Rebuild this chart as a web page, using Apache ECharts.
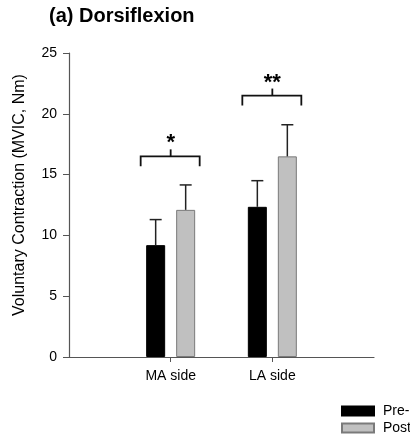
<!DOCTYPE html>
<html>
<head>
<meta charset="utf-8">
<script src="https://cdn.jsdelivr.net/npm/echarts@6/dist/echarts.min.js"></script>
<style>
html,body{margin:0;padding:0;background:#fff;}
#c{width:410px;height:437px;}
</style>
</head>
<body>
<div id="c"></div>
<script>
// ---- data ----
const categories = ['MA side', 'LA side'];
const seriesNames = ['Pre-intervention', 'Post-intervention'];
const preValues = [9.2, 12.35];
const postValues = [12.1, 16.5];
const preErrors = [2.1, 2.15];
const postErrors = [2.05, 2.6];
const sigLevels = [16.5, 21.5];
const sigLabels = ['*', '**'];
const yTicks = [0, 5, 10, 15, 20, 25];

// padded category axis (empty slots at both ends)
const axisCats = [''].concat(categories, ['']);
const pad = arr => [null].concat(arr, [null]);

const BAR_W = 19;
const BAR_GAP_PX = 11;
const OFF = (BAR_W + BAR_GAP_PX) / 2;
const FONT = 'Liberation Sans, Arial, Helvetica, sans-serif';

function errData(vals, errs) {
  return vals.map((v, i) => [i + 1, v + errs[i], v]);
}
function errRender(offset) {
  return function (params, api) {
    const x = api.value(0);
    const base = api.coord([x, api.value(2)]);
    const top = api.coord([x, api.value(1)]);
    const cx = base[0] + offset;
    return {
      type: 'group',
      children: [
        {type: 'line', shape: {x1: cx, y1: base[1], x2: cx, y2: top[1]}, style: {stroke: '#222', lineWidth: 1.5}},
        {type: 'line', shape: {x1: cx - 6, y1: top[1], x2: cx + 6, y2: top[1]}, style: {stroke: '#222', lineWidth: 1.5}}
      ]
    };
  };
}

const legendBase = {
  orient: 'vertical',
  left: 341,
  padding: 0,
  itemWidth: 32, itemHeight: 9,
  icon: 'rect',
  textStyle: {fontFamily: FONT, fontSize: 14, color: '#000', padding: [0, 0, 0, 4]}
};

const chart = echarts.init(document.getElementById('c'));
chart.setOption({
  animation: false,
  backgroundColor: '#fff',
  title: {
    text: '(a) Dorsiflexion',
    left: 49, top: 6, padding: 0,
    textStyle: {fontFamily: FONT, fontWeight: 'bold', fontSize: 20, color: '#000'}
  },
  legend: [
    Object.assign({}, legendBase, {top: 404, data: [seriesNames[0]]}),
    Object.assign({}, legendBase, {top: 421, data: [seriesNames[1]]})
  ],
  grid: {left: 69, right: 36, top: 53, bottom: 80, containLabel: false},
  xAxis: {
    type: 'category',
    data: axisCats,
    boundaryGap: false,
    axisLine: {lineStyle: {color: '#555', width: 1.2}},
    axisTick: {length: 5, lineStyle: {color: '#555'}, interval: (i) => i > 0 && i < axisCats.length - 1},
    axisLabel: {fontFamily: FONT, fontSize: 14, color: '#000', margin: 12, interval: 0},
    splitLine: {show: false}
  },
  yAxis: {
    type: 'value',
    min: yTicks[0], max: yTicks[yTicks.length - 1], interval: 5,
    name: 'Voluntary Contraction (MVIC, Nm)',
    nameLocation: 'middle',
    nameGap: 41,
    nameTextStyle: {fontFamily: FONT, fontSize: 16, color: '#000', padding: [0, 0, 0, 20]},
    axisLine: {show: true, lineStyle: {color: '#555', width: 1.2}},
    axisTick: {show: true, length: 6, lineStyle: {color: '#555'}},
    axisLabel: {fontFamily: FONT, fontSize: 14, color: '#000', margin: 12},
    splitLine: {show: false}
  },
  series: [
    {
      name: seriesNames[0], type: 'bar', data: pad(preValues),
      barWidth: BAR_W, barGap: (BAR_GAP_PX / BAR_W * 100) + '%',
      itemStyle: {color: '#000', borderColor: '#000', borderWidth: 1},
      z: 2
    },
    {
      name: seriesNames[1], type: 'bar', data: pad(postValues),
      barWidth: BAR_W,
      itemStyle: {color: '#c0c0c0', borderColor: '#7a7a7a', borderWidth: 1},
      z: 2
    },
    {
      type: 'custom', data: errData(preValues, preErrors),
      encode: {x: 0, y: 1}, renderItem: errRender(-OFF), z: 3, silent: true
    },
    {
      type: 'custom', data: errData(postValues, postErrors),
      encode: {x: 0, y: 1}, renderItem: errRender(OFF), z: 3, silent: true
    },
    {
      type: 'custom',
      data: sigLevels.map((v, i) => [i + 1, v]),
      encode: {x: 0, y: 1}, z: 4, silent: true,
      renderItem: function (params, api) {
        const p = api.coord([api.value(0), api.value(1)]);
        const cx = p[0], y = p[1];
        const L = cx - 30, R = cx + 29;
        return {
          type: 'group',
          children: [
            {type: 'polyline', shape: {points: [[L, y + 10], [L, y], [R, y], [R, y + 10]]}, style: {stroke: '#111', lineWidth: 1.8, fill: null}},
            {type: 'line', shape: {x1: cx, y1: y, x2: cx, y2: y - 7}, style: {stroke: '#111', lineWidth: 1.8}},
            {type: 'text', x: cx, y: y - 2, style: {text: sigLabels[params.dataIndex], fontFamily: FONT, fontWeight: 'bold', fontSize: 22, fill: '#000', align: 'center', verticalAlign: 'bottom'}}
          ]
        };
      }
    }
  ]
});
</script>
</body>
</html>
